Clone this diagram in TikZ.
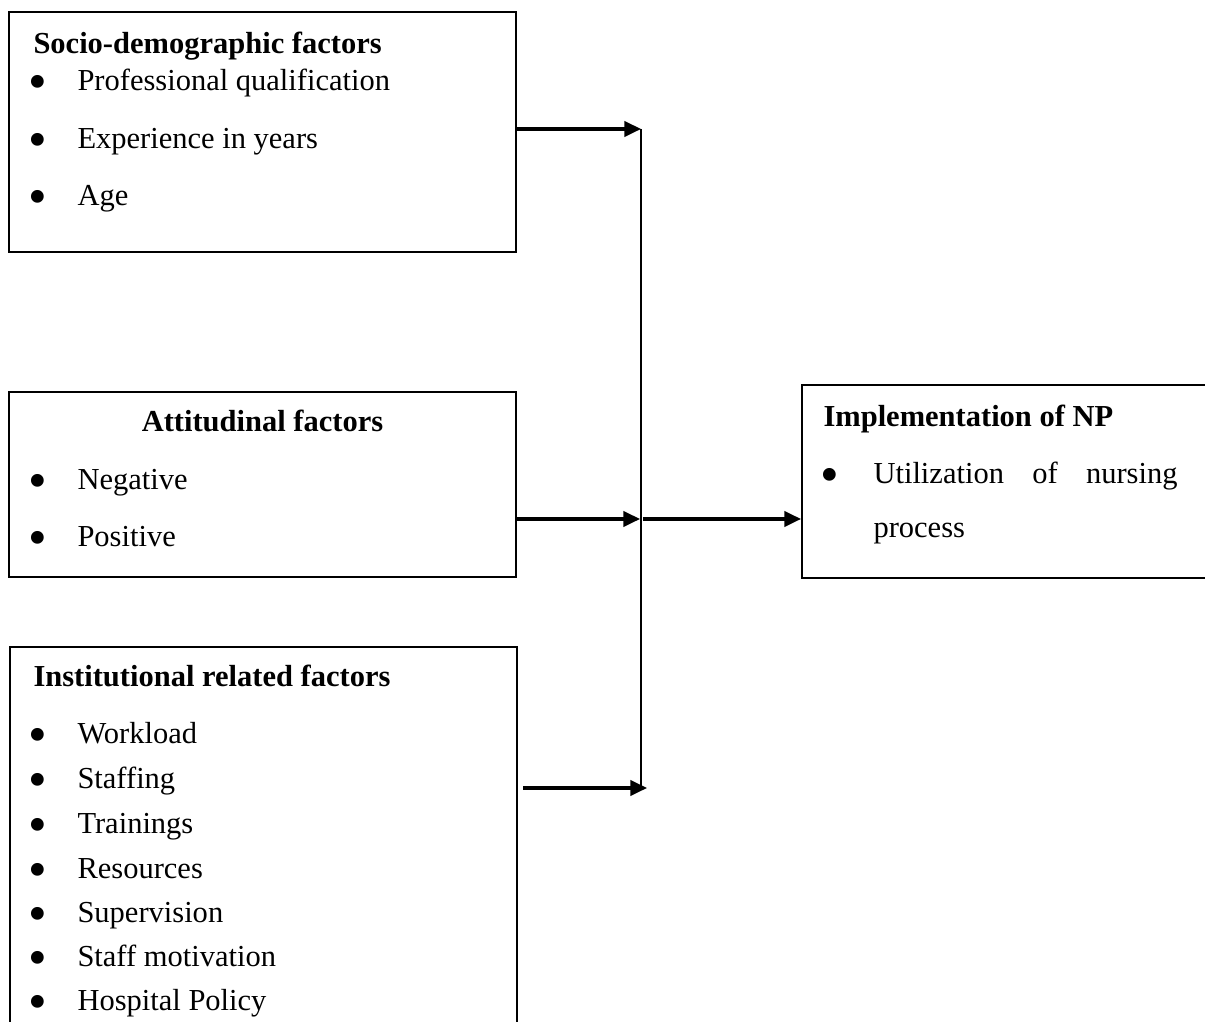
\documentclass[tikz,border=0pt]{standalone}
\usepackage{fontspec}
\usepackage{graphicx}
\setmainfont{Liberation Serif}
\usetikzlibrary{arrows.meta,fit}
\newcommand\bigbul{\scalebox{1.75}{\textbullet}}
\begin{document}
\begin{tikzpicture}[x=0.3934pt,y=-0.3934pt,
  box/.style={draw,line width=0.8pt,inner sep=0pt,rectangle},
  txt/.style={anchor=base west,inner sep=0pt,font=\fontsize{12}{14}\selectfont},
  hd/.style={anchor=base west,inner sep=0pt,font=\fontsize{12}{14}\selectfont\bfseries},
  bul/.style={anchor=base,inner sep=0pt,font=\fontsize{12}{12}\selectfont,yshift=-3.4pt},
  arr/.style={line width=1.2pt,-{Triangle[length=6.5pt,width=6pt]}},
  vline/.style={line width=0.6pt}]
\useasboundingbox (0,0) rectangle (1205,1022);
\clip (0,0) rectangle (1205,1022);

% boxes
\node[box,fit={(9,12) (516,252)}] (b1) {};
\node[box,fit={(9,392) (516,577)}] (b2) {};
\node[box,fit={(10,647) (517,1040)}] (b3) {};
\node[box,fit={(802,385) (1220,578)}] (b4) {};

% box 1 text
\node[hd] (h1) at (33,54) {Socio-demographic factors};
\node[bul] (p1a) at (38,91) {\bigbul};
\node[txt] (t1a) at (77,91) {Professional qualification};
\node[bul] (p1b) at (38,149) {\bigbul};
\node[txt] (t1b) at (77,149) {Experience in years};
\node[bul] (p1c) at (38,206) {\bigbul};
\node[txt] (t1c) at (77,206) {Age};

% box 2 text
\node[hd,anchor=base] (h2) at (262.5,432) {Attitudinal factors};
\node[bul] (p2a) at (38,490) {\bigbul};
\node[txt] (t2a) at (77,490) {Negative};
\node[bul] (p2b) at (38,547) {\bigbul};
\node[txt] (t2b) at (77,547) {Positive};

% box 3 text
\node[hd] (h3) at (33,687) {Institutional related factors};
\node[bul] (p3a) at (38,744) {\bigbul};
\node[txt] (t3a) at (77,744) {Workload};
\node[bul] (p3b) at (38,789) {\bigbul};
\node[txt] (t3b) at (77,789) {Staffing};
\node[bul] (p3c) at (38,834) {\bigbul};
\node[txt] (t3c) at (77,834) {Trainings};
\node[bul] (p3d) at (38,879) {\bigbul};
\node[txt] (t3d) at (77,879) {Resources};
\node[bul] (p3e) at (38,923) {\bigbul};
\node[txt] (t3e) at (77,923) {Supervision};
\node[bul] (p3f) at (38,967) {\bigbul};
\node[txt] (t3f) at (77,967) {Staff motivation};
\node[bul] (p3g) at (38,1011) {\bigbul};
\node[txt] (t3g) at (77,1011) {Hospital Policy};

% box 4 text
\node[hd] (h4) at (823,427) {Implementation of NP};
\node[bul] (p4a) at (830,484) {\bigbul};
\node[txt] (t4a) at (873,484) {\makebox[119.6pt][s]{Utilization of nursing}};
\node[txt] (t4b) at (873,538) {process};

% connectors
\coordinate (j1) at (641,129);
\coordinate (j2) at (640,519);
\coordinate (s3) at (523,788);
\coordinate (j3) at (647,788);
\coordinate (j4) at (643,519);
\coordinate (vend) at (641,786);

\draw[vline] (j1) -- (vend);
\draw[arr] (b1.east |- j1) -- (j1);
\draw[arr] (b2.east |- j2) -- (j2);
\draw[arr] (s3) -- (j3);
\draw[arr] (j4) -- (b4.west |- j4);
\end{tikzpicture}
\end{document}
